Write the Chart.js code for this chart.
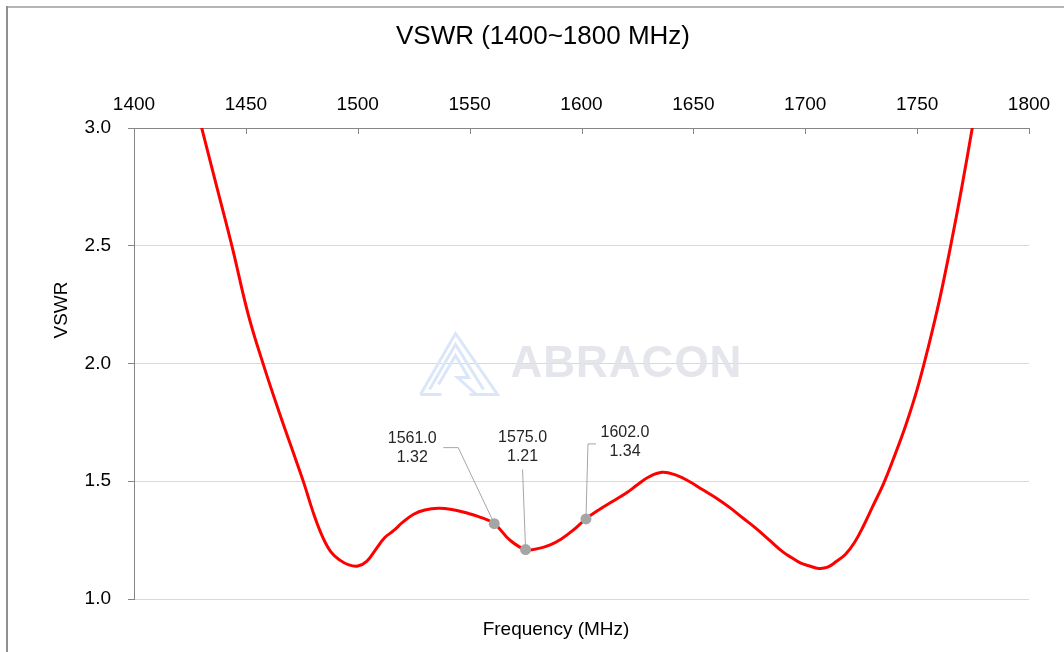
<!DOCTYPE html>
<html><head><meta charset="utf-8">
<script src="https://cdn.jsdelivr.net/npm/chart.js@4.4.1/dist/chart.umd.min.js"></script>
<style>html,body{margin:0;padding:0;background:#fff;overflow:hidden}#wrap{position:relative;width:1064px;height:652px}</style>
</head><body><div id="wrap"><canvas id="c" width="1064" height="652"></canvas></div>
<script>
// ---- data ----
const freqMHz = [1420,1430,1437,1444,1451,1458,1465,1472,1476,1480,1484,1488,1492,1496,1500,1504,1508,1512,1516,1520,1525,1530,1536,1542,1548,1554,1561,1568,1575,1581,1586,1591,1596,1602,1608,1614,1620,1625,1630,1636,1642,1648,1654,1660,1666,1672,1678,1684,1690,1694,1698,1702,1706,1710,1714,1718,1722,1726,1730,1735,1740,1745,1750,1755,1760,1765,1770,1775,1785];
const vswr    = [3.38,3.01,2.75,2.49,2.21,1.99,1.79,1.60,1.49,1.37,1.27,1.20,1.165,1.145,1.14,1.16,1.21,1.26,1.29,1.325,1.36,1.378,1.385,1.38,1.367,1.35,1.32,1.25,1.21,1.215,1.23,1.255,1.29,1.34,1.38,1.415,1.45,1.485,1.518,1.538,1.527,1.50,1.465,1.43,1.39,1.345,1.30,1.25,1.20,1.175,1.152,1.14,1.13,1.135,1.16,1.19,1.24,1.31,1.39,1.49,1.61,1.74,1.89,2.07,2.27,2.50,2.75,3.02,3.58];
const markerFreq = [1561.0, 1575.0, 1602.0];
const markerVswr = [1.32, 1.21, 1.34];
const xTickValues = [1400,1450,1500,1550,1600,1650,1700,1750,1800];
const yTickValues = [1.0,1.5,2.0,2.5,3.0];
const chartTitle = 'VSWR (1400~1800 MHz)';
const xTitle = 'Frequency (MHz)';
const yTitle = 'VSWR';
const watermark = 'ABRACON';

// ---- layout / style ----
const FONT = '"Liberation Sans", Arial, Helvetica, sans-serif';
const AXIS_GREY = '#868686';
const GRID_GREY = '#d9d9d9';
// label offsets (pixels from marker)
const markerLabelLayout = [
  {dx:-82, dy:-76, leader:[[-36,-76],[-51,-76]]},
  {dx:-3,  dy:-102, leader:[[-3,-80]]},
  {dx:39,  dy:-77, leader:[[2,-75],[10,-75]]}
];

const deco = {
  id:'deco',
  beforeDraw(chart){
    const c = chart.ctx;
    c.save();
    c.fillStyle='#fff'; c.fillRect(0,0,chart.width,chart.height);
    c.lineWidth=2;
    c.strokeStyle='#b4b4b4';
    c.beginPath(); c.moveTo(6,7); c.lineTo(chart.width,7); c.stroke();
    c.strokeStyle='#909090';
    c.beginPath(); c.moveTo(7,6); c.lineTo(7,chart.height); c.stroke();
    c.restore();
  },
  beforeDatasetsDraw(chart){
    const c = chart.ctx, a = chart.chartArea;
    const cx = (a.left+a.right)/2, cy = (a.top+a.bottom)/2;
    c.save();
    // watermark logo
    c.strokeStyle='#dbe7f8'; c.lineWidth=3; c.lineJoin='miter';
    const P=(x,y)=>[cx+x,cy+y];
    const poly=(pts)=>{c.beginPath(); pts.forEach((p,i)=>{const q=P(p[0],p[1]); i?c.lineTo(q[0],q[1]):c.moveTo(q[0],q[1]);}); c.stroke();};
    poly([[-161,31],[-126,-30],[-84,31],[-112,31]]);
    poly([[-152,26],[-126,-19],[-98,26]]);
    poly([[-143,21],[-126,-8],[-113,14],[-124,14],[-105,31]]);
    poly([[-161,31],[-140,31]]);
    // watermark text
    c.fillStyle='rgba(224,226,233,0.85)';
    c.font='bold 44px '+FONT;
    c.textBaseline='middle'; c.textAlign='left';
    if ('letterSpacing' in c) c.letterSpacing='1px';
    c.fillText(watermark, cx-71, cy+1);
    if ('letterSpacing' in c) c.letterSpacing='0px';
    // leader lines
    const xs = chart.scales.x, ys = chart.scales.y;
    c.strokeStyle='#a6a6a6'; c.lineWidth=1;
    markerFreq.forEach((f,i)=>{
      const px = xs.getPixelForValue(f), py = ys.getPixelForValue(markerVswr[i]);
      const L = markerLabelLayout[i];
      c.beginPath(); c.moveTo(px,py);
      L.leader.forEach(p=>c.lineTo(px+p[0],py+p[1]));
      c.stroke();
    });
    c.restore();
  },
  afterDraw(chart){
    const c = chart.ctx, a = chart.chartArea;
    const xs = chart.scales.x, ys = chart.scales.y;
    c.save();
    // inside tick marks on top axis
    c.strokeStyle=AXIS_GREY; c.lineWidth=1;
    xTickValues.forEach(v=>{
      const px = Math.round(xs.getPixelForValue(v))+0.5;
      c.beginPath(); c.moveTo(px,a.top); c.lineTo(px,a.top+6); c.stroke();
    });
    // marker labels
    c.fillStyle='#262626'; c.font='16px '+FONT; c.textAlign='center'; c.textBaseline='middle';
    markerFreq.forEach((f,i)=>{
      const px = xs.getPixelForValue(f), py = ys.getPixelForValue(markerVswr[i]);
      const L = markerLabelLayout[i];
      c.fillText(f.toFixed(1), px+L.dx, py+L.dy-9.5);
      c.fillText(markerVswr[i].toFixed(2), px+L.dx, py+L.dy+9.5);
    });
    // title
    c.fillStyle='#000'; c.font='26px '+FONT;
    c.fillText(chartTitle, 543, 37);
    // axis titles
    c.font='19px '+FONT; c.fillStyle='#000';
    c.fillText(xTitle, 556, 630);
    c.translate(62, 310); c.rotate(-Math.PI/2);
    c.fillText(yTitle, 0, 0);
    c.restore();
  }
};

new Chart(document.getElementById('c'), {
  type:'line',
  data:{datasets:[
    {label:'markers', data: markerFreq.map((f,i)=>({x:f,y:markerVswr[i]})), showLine:false,
     pointRadius:5.5, pointBackgroundColor:'#a5a5a5', pointBorderWidth:0, pointHoverRadius:5.5},
    {label:'VSWR', data: freqMHz.map((f,i)=>({x:f,y:vswr[i]})), borderColor:'#ff0000', borderWidth:3,
     pointRadius:0, tension:0.4, fill:false}
  ]},
  options:{
    responsive:false, animation:false, devicePixelRatio:1,
    layout:{padding:{left:0,top:0,right:35,bottom:53}},
    plugins:{legend:{display:false}, tooltip:{enabled:false}, title:{display:false}},
    scales:{
      x:{type:'linear', position:'top', min:1400, max:1800,
         afterBuildTicks:s=>{s.ticks = xTickValues.map(v=>({value:v}));},
         afterFit:s=>{s.height=128;},
         grid:{display:false, drawTicks:false},
         border:{display:true, color:AXIS_GREY, width:1},
         ticks:{padding:12, color:'#000', font:{family:FONT,size:19}, maxRotation:0, callback:v=>String(v)}},
      y:{type:'linear', min:1, max:3,
         afterBuildTicks:s=>{s.ticks = yTickValues.map(v=>({value:v}));},
         afterFit:s=>{s.width=134;},
         grid:{color:c=>(c.tick && c.tick.value===3)?AXIS_GREY:GRID_GREY, tickLength:6, tickColor:AXIS_GREY, lineWidth:1},
         border:{display:true, color:AXIS_GREY, width:1},
         ticks:{padding:17, color:'#000', font:{family:FONT,size:19}, callback:v=>Number(v).toFixed(1)}}
    }
  },
  plugins:[deco]
});
</script></body></html>
